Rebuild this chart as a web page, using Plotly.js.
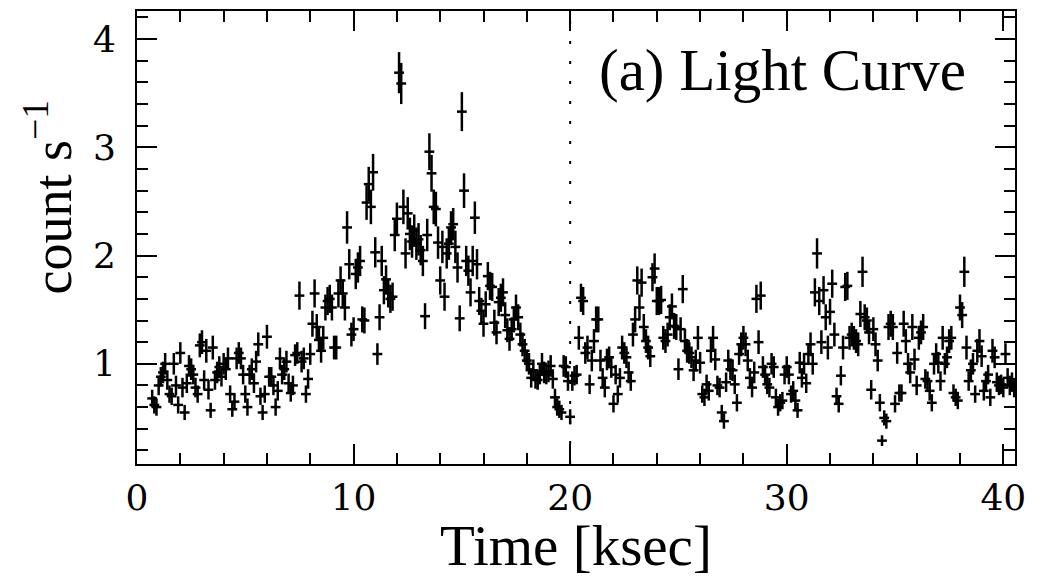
<!DOCTYPE html>
<html>
<head>
<meta charset="utf-8">
<script src="https://cdn.plot.ly/plotly-3.0.1.min.js"></script>
<style>html,body{margin:0;padding:0;background:#fff;}#chart{width:1040px;height:577px;}</style>
</head>
<body>
<div id="chart"></div>
<script>
// Time bins [ksec]
const time = [
  0.7,0.8,0.9,1.0,1.1,1.2,1.3,1.4,1.5,1.6,
  1.7,1.8,1.9,2.0,2.1,2.2,2.3,2.4,2.5,2.6,
  2.7,2.8,2.9,3.0,3.1,3.2,3.3,3.4,3.5,3.6,
  3.7,3.8,3.9,4.0,
  4.1,4.2,4.3,4.4,4.5,4.6,4.7,4.8,4.9,5.0,
  5.1,5.2,5.3,5.4,5.5,5.6,5.7,5.8,5.9,6.0,
  6.1,6.2,6.3,6.4,6.5,6.6,6.7,6.8,6.9,7.0,
  7.1,7.2,7.3,7.4,7.5,7.6,7.7,
  7.8,7.9,8.0,8.1,8.2,8.3,8.4,8.5,8.6,8.7,
  8.8,8.9,9.0,9.1,9.2,9.3,9.4,9.5,9.6,9.7,
  9.8,9.9,10.0,10.1,10.2,10.3,10.4,10.5,10.6,10.7,
  10.8,10.9,11.0,11.1,11.2,11.3,11.4,
  11.5,11.6,11.7,11.8,11.9,12.0,12.1,12.2,12.3,12.4,
  12.5,12.6,12.7,12.8,12.9,13.0,13.1,13.2,13.3,13.4,
  13.5,13.6,13.7,13.8,13.9,14.0,14.1,14.2,14.3,14.4,
  14.5,14.6,14.7,14.8,14.9,15.0,15.1,
  15.2,15.3,15.4,15.5,15.6,15.7,15.8,15.9,16.0,16.1,
  16.2,16.3,16.4,16.5,16.6,16.7,16.8,16.9,17.0,17.1,
  17.2,17.3,17.4,17.5,17.6,17.7,17.8,17.9,18.0,18.1,
  18.2,18.3,18.4,18.5,18.6,18.7,18.8,
  18.9,19.0,19.1,19.2,19.3,19.4,19.5,19.6,19.7,19.8,
  19.9,20.0,20.1,20.2,20.3,20.4,20.5,20.6,20.7,20.8,
  20.9,21.0,21.1,21.2,21.3,21.4,21.5,21.6,21.7,21.8,
  21.9,22.0,22.1,22.2,22.3,22.4,22.5,
  22.6,22.7,22.8,22.9,23.0,23.1,23.2,23.3,23.4,23.5,
  23.6,23.7,23.8,23.9,24.0,24.1,24.2,24.3,24.4,24.5,
  24.6,24.7,24.8,24.9,25.0,25.1,25.2,25.3,25.4,25.5,
  25.6,25.7,25.8,25.9,26.0,26.1,26.2,
  26.3,26.4,26.5,26.6,26.7,26.8,26.9,27.0,27.1,27.2,
  27.3,27.4,27.5,27.6,27.7,27.8,27.9,28.0,28.1,28.2,
  28.3,28.4,28.5,28.6,28.7,28.8,28.9,29.0,29.1,29.2,
  29.3,29.4,29.5,29.6,29.7,29.8,29.9,
  30.0,30.1,30.2,30.3,30.4,30.5,30.6,30.7,30.8,30.9,
  31.0,31.1,31.2,31.3,31.4,31.5,31.6,31.7,31.8,31.9,
  32.0,32.1,32.2,32.3,32.4,32.5,32.6,32.7,32.8,32.9,
  33.0,33.1,33.2,33.3,33.4,33.5,33.6,
  33.7,33.8,33.9,34.0,34.1,34.2,34.3,34.4,34.5,34.6,
  34.7,34.8,34.9,35.0,35.1,35.2,35.3,35.4,35.5,35.6,
  35.7,35.8,35.9,36.0,36.1,36.2,36.3,36.4,36.5,36.6,
  36.7,36.8,36.9,37.0,37.1,37.2,37.3,
  37.4,37.5,37.6,37.7,37.8,37.9,38.0,38.1,38.2,38.3,
  38.4,38.5,38.6,38.7,38.8,38.9,39.0,39.1,39.2,39.3,
  39.4,39.5,39.6,39.7,39.8,39.9,40.0,40.1,40.2,40.3,
  40.4,40.5
];

// Count rate [count s^-1]
const rate = [
  0.68,0.62,0.60,0.80,0.88,0.92,1.00,0.85,0.72,0.70,
  1.00,0.80,0.62,1.10,0.78,0.55,0.82,0.98,0.95,0.90,
  0.78,0.72,1.17,1.20,0.85,1.12,0.76,0.57,1.15,0.85,
  0.92,0.97,0.88,1.00,
  0.95,1.05,0.72,0.58,0.65,1.05,1.10,1.05,0.90,0.72,
  0.60,0.90,0.95,0.82,1.02,1.18,0.70,0.55,0.72,1.25,
  0.88,0.88,0.80,0.60,0.75,1.05,0.90,0.95,1.02,0.82,
  0.73,0.80,1.08,1.10,1.63,1.02,1.05,
  0.72,0.86,1.09,1.37,1.65,1.34,1.22,1.12,1.24,1.52,
  1.58,1.60,1.52,1.15,1.15,1.65,1.77,1.65,1.52,2.26,
  1.92,1.27,1.32,1.83,1.89,1.95,1.41,1.40,2.49,2.66,
  2.45,2.77,2.03,1.09,1.43,1.95,1.68,
  1.78,1.65,1.60,1.62,2.19,2.34,3.69,3.59,2.45,2.02,
  2.39,2.20,2.13,2.23,2.11,2.15,2.05,1.95,1.44,2.19,
  2.96,2.76,2.45,2.43,2.12,1.77,2.08,1.62,2.02,2.11,
  2.26,2.29,2.08,1.89,1.42,3.33,2.60,
  1.95,1.86,1.66,1.95,2.35,1.92,1.58,1.49,1.37,1.55,
  1.81,1.72,1.71,1.38,1.29,1.57,1.61,1.66,1.45,1.31,
  1.23,1.32,1.41,1.52,1.43,1.27,1.18,1.12,1.03,1.00,
  0.87,0.94,0.86,0.85,0.90,1.00,0.92,
  0.90,0.93,0.98,0.86,0.69,0.60,0.58,0.55,0.98,0.97,
  0.84,0.51,0.84,0.89,0.90,1.24,1.61,1.58,1.10,1.15,
  0.81,1.03,1.21,1.41,1.41,1.03,0.87,0.78,1.04,1.06,
  0.97,0.63,0.90,0.72,0.87,1.15,1.10,
  1.06,0.92,0.84,1.27,1.41,1.77,1.52,1.75,1.34,1.21,
  1.15,1.07,1.80,1.88,1.58,1.58,1.59,1.24,1.21,1.27,
  1.43,1.53,1.35,1.34,0.95,1.32,1.69,1.21,1.12,1.10,
  1.06,0.94,1.03,1.24,1.01,0.72,0.69,
  0.81,0.75,1.12,1.24,1.04,0.80,0.78,0.55,0.47,0.83,
  1.03,0.95,0.94,0.81,0.64,1.09,1.18,1.24,1.18,1.03,
  0.87,0.78,0.92,1.60,1.20,1.63,0.97,0.90,0.81,0.78,
  1.00,0.97,0.69,0.60,0.64,0.66,0.90,
  0.97,0.90,0.72,0.75,0.66,0.57,1.01,0.87,1.00,0.82,
  1.09,1.18,1.00,1.66,2.02,1.58,1.20,1.68,1.43,1.15,
  1.48,1.74,1.27,0.70,0.63,0.89,1.15,1.71,1.72,1.24,
  1.27,1.24,1.21,1.18,1.46,1.85,1.43,
  1.40,1.29,0.76,1.32,1.18,1.03,0.64,0.29,0.50,0.47,
  1.34,1.37,1.34,0.63,1.10,0.73,0.73,1.37,1.21,1.00,
  0.92,1.34,1.04,0.80,1.24,1.29,1.34,0.86,0.84,0.75,
  0.64,1.00,1.09,1.01,0.84,1.24,1.00,
  1.06,1.21,1.24,0.73,0.69,0.66,1.52,1.45,1.85,1.15,
  0.84,0.94,1.00,0.72,1.12,1.21,1.07,0.75,0.84,0.90,
  0.69,1.12,1.06,0.83,0.80,0.81,0.78,1.09,0.87,0.80,
  0.83,0.78
];

// 1-sigma error of each bin [count s^-1]
const rateErr = [
  0.08,0.08,0.08,0.09,0.09,0.10,0.10,0.09,0.08,0.08,
  0.10,0.09,0.08,0.10,0.09,0.07,0.09,0.10,0.10,0.09,
  0.09,0.08,0.11,0.11,0.09,0.11,0.09,0.07,0.11,0.09,
  0.10,0.10,0.09,0.10,
  0.10,0.10,0.08,0.07,0.08,0.10,0.10,0.10,0.09,0.08,
  0.08,0.09,0.10,0.09,0.10,0.11,0.08,0.07,0.08,0.11,
  0.09,0.09,0.09,0.08,0.09,0.10,0.09,0.10,0.10,0.09,
  0.08,0.09,0.10,0.10,0.13,0.10,0.10,
  0.08,0.09,0.10,0.12,0.13,0.12,0.11,0.11,0.11,0.12,
  0.13,0.13,0.12,0.11,0.11,0.13,0.13,0.13,0.12,0.15,
  0.14,0.11,0.11,0.14,0.14,0.14,0.12,0.12,0.16,0.16,
  0.16,0.17,0.14,0.10,0.12,0.14,0.13,
  0.13,0.13,0.13,0.13,0.15,0.15,0.19,0.19,0.16,0.14,
  0.15,0.15,0.15,0.15,0.15,0.15,0.14,0.14,0.12,0.15,
  0.17,0.17,0.16,0.16,0.15,0.13,0.15,0.13,0.14,0.15,
  0.15,0.15,0.15,0.14,0.12,0.18,0.16,
  0.14,0.14,0.13,0.14,0.15,0.14,0.13,0.12,0.12,0.12,
  0.13,0.13,0.13,0.12,0.11,0.13,0.13,0.13,0.12,0.11,
  0.11,0.11,0.12,0.12,0.12,0.11,0.11,0.11,0.10,0.10,
  0.09,0.10,0.09,0.09,0.09,0.10,0.10,
  0.09,0.10,0.10,0.09,0.08,0.08,0.08,0.07,0.10,0.10,
  0.09,0.07,0.09,0.09,0.09,0.11,0.13,0.13,0.10,0.11,
  0.09,0.10,0.11,0.12,0.12,0.10,0.09,0.09,0.10,0.10,
  0.10,0.08,0.09,0.08,0.09,0.11,0.10,
  0.10,0.10,0.09,0.11,0.12,0.13,0.12,0.13,0.12,0.11,
  0.11,0.10,0.13,0.14,0.13,0.13,0.13,0.11,0.11,0.11,
  0.12,0.12,0.12,0.12,0.10,0.11,0.13,0.11,0.11,0.10,
  0.10,0.10,0.10,0.11,0.10,0.08,0.08,
  0.09,0.09,0.11,0.11,0.10,0.09,0.09,0.07,0.07,0.09,
  0.10,0.10,0.10,0.09,0.08,0.10,0.11,0.11,0.11,0.10,
  0.09,0.09,0.10,0.13,0.11,0.13,0.10,0.09,0.09,0.09,
  0.10,0.10,0.08,0.08,0.08,0.08,0.09,
  0.10,0.09,0.08,0.09,0.08,0.07,0.10,0.09,0.10,0.09,
  0.10,0.11,0.10,0.13,0.14,0.13,0.11,0.13,0.12,0.11,
  0.12,0.13,0.11,0.08,0.08,0.09,0.11,0.13,0.13,0.11,
  0.11,0.11,0.11,0.11,0.12,0.14,0.12,
  0.12,0.11,0.09,0.11,0.11,0.10,0.08,0.05,0.07,0.07,
  0.12,0.12,0.12,0.08,0.10,0.08,0.08,0.12,0.11,0.10,
  0.10,0.12,0.10,0.09,0.11,0.11,0.12,0.09,0.09,0.09,
  0.08,0.10,0.10,0.10,0.09,0.11,0.10,
  0.10,0.11,0.11,0.08,0.08,0.08,0.12,0.12,0.14,0.11,
  0.09,0.10,0.10,0.08,0.11,0.11,0.10,0.09,0.09,0.09,
  0.08,0.11,0.10,0.09,0.09,0.09,0.09,0.10,0.09,0.09,
  0.09,0.09
];

const xTickVals = [0, 10, 20, 30, 40];
const xTickText = ["0", "10", "20", "30", "40"];
const yTickVals = [1, 2, 3, 4];
const yTickText = ["1", "2", "3", "4"];
const splitTime = 20;
const panelLabel = "(a) Light Curve";

const serif = "Liberation Serif, Times New Roman, serif";
const tickFont = {family: "DejaVu Serif, serif", size: 36, color: "#000"};

const trace = {
  type: "scatter",
  mode: "markers",
  x: time,
  y: rate,
  marker: {symbol: "line-ew", size: 7, color: "#000", line: {color: "#000", width: 2.5}},
  error_y: {type: "data", array: rateErr, visible: true, color: "#000", thickness: 2.5, width: 0},
  hoverinfo: "x+y",
  showlegend: false
};

const axisCommon = {
  showline: true, linecolor: "#000", linewidth: 2, mirror: "ticks",
  ticks: "inside", tickcolor: "#000", tickwidth: 2, ticklen: 20,
  showgrid: false, zeroline: false, tickfont: tickFont
};

const layout = {
  width: 1040, height: 577,
  margin: {l: 137, r: 25, t: 11, b: 113, pad: 0},
  paper_bgcolor: "#fff", plot_bgcolor: "#fff",
  showlegend: false,
  xaxis: Object.assign({}, axisCommon, {
    range: [0, 40.54],
    tickmode: "array", tickvals: xTickVals, ticktext: xTickText,
    ticklabelstandoff: 1,
    minor: {dtick: 2, tick0: 0, ticks: "inside", ticklen: 11, tickwidth: 2, tickcolor: "#000", showgrid: false},
    title: {text: "Time [ksec]", font: {family: serif, size: 57, color: "#000"}, standoff: 14},
    automargin: false
  }),
  yaxis: Object.assign({}, axisCommon, {
    range: [0.074, 4.26],
    tickmode: "array", tickvals: yTickVals, ticktext: yTickText,
    ticklabelstandoff: 12,
    minor: {dtick: 0.2, tick0: 0, ticks: "inside", ticklen: 11, tickwidth: 2, tickcolor: "#000", showgrid: false},
    automargin: false
  }),
  shapes: [{
    type: "line", xref: "x", yref: "paper", x0: splitTime, x1: splitTime, y0: 0, y1: 1,
    line: {color: "#000", width: 2, dash: "3px,17px"}
  }],
  annotations: [
    {text: panelLabel, xref: "paper", yref: "paper", x: 0.9465, y: 0.87,
     xanchor: "right", yanchor: "middle", showarrow: false,
     font: {family: serif, size: 59, color: "#000"}},
    {text: "count s<sup>\u22121</sup>", xref: "paper", yref: "paper", x: -0.101, y: 0.589,
     xanchor: "center", yanchor: "middle", textangle: -90, showarrow: false,
     font: {family: serif, size: 54, color: "#000"}}
  ]
};

Plotly.newPlot("chart", [trace], layout, {displayModeBar: false, staticPlot: true});
</script>
</body>
</html>
